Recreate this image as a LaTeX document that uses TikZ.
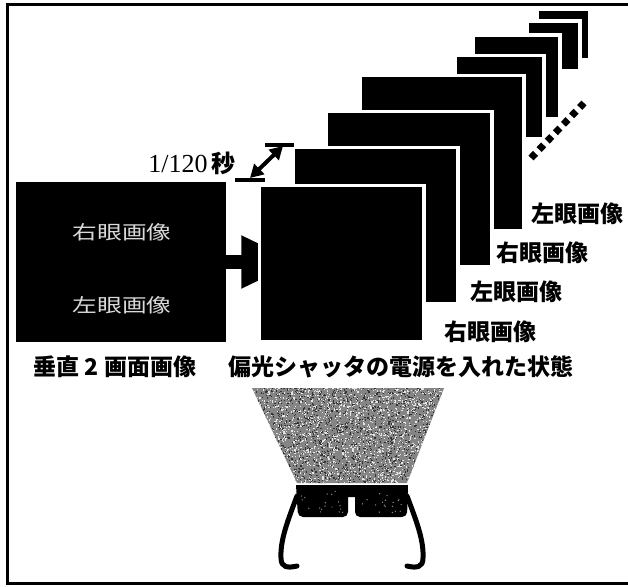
\documentclass[tikz,border=0pt]{standalone}
\usepackage{fontspec}
\usetikzlibrary{arrows.meta}
\newfontfamily\jpfont{Noto Sans CJK JP}
\newfontfamily\jpwide[FakeStretch=1.3]{Noto Sans CJK JP}
\newfontfamily\numfont{Liberation Serif}
\pgfdeclarelayer{background}
\pgfsetlayers{background,main}

\begin{document}
\begin{tikzpicture}[x=1pt,y=-1pt,
  caption/.style={font=\jpfont\bfseries\fontsize{23}{23}\selectfont, inner sep=0pt},
  eyetext/.style={font=\jpwide\fontsize{19}{19}\selectfont, text=white!85!black, inner sep=0pt},
  sheet/.style={fill=black, draw=white, line width=3.5pt, inner sep=0pt, outer sep=0pt},
  bigarrow/.style={line width=14pt, -{Triangle[length=57pt,width=49pt]}},
  dimbar/.style={line width=4pt},
  dimarrow/.style={line width=4pt, {Triangle[length=13pt,width=14pt]}-{Triangle[length=13pt,width=14pt]}},
  temple/.style={line width=5pt, line cap=round, line join=round},
  dots/.style={line width=7pt, dash pattern=on 6.5pt off 5.2pt},
]
\useasboundingbox (0,0) rectangle (628,586);

% outer frame (open on the right)
\draw[line width=3pt] (628,4.5) -- (7.5,4.5) -- (7.5,583) -- (628,583);

% side-by-side source image
\node[fill=black, inner sep=0pt, outer sep=0pt, minimum width=210pt, minimum height=160pt] (lbox) at (121,262) {};
\node[eyetext] (lt1) at (122,232) {右眼画像};
\node[eyetext] (lt2) at (122,305) {左眼画像};
\node[caption] (lcap) at (115,367) {垂直 2 画面画像};

% sequence of frames, back to front
\foreach \n/\a/\b/\c/\d in {l1/539/11/588/58, l2/529/23/578/69, l3/475/37/558/117,
    l4/457/57/542/137, f4/362/77/522/229, f3/328/113/490/265,
    f2/295/149/456/302, f1/261/187/422/340}
  \node[sheet, minimum width={\c-\a+3.5}, minimum height={\d-\b+3.5}] (\n)
    at ({(\a+\c)/2},{(\b+\d)/2}) {};

% arrow from the source image into the frame sequence
\begin{pgfonlayer}{background}
  \draw[bigarrow] (lbox.east) -- ([xshift=39pt]f1.west |- lbox.east);
\end{pgfonlayer}

% continuation dots
\coordinate (dA) at (531,158);
\coordinate (dB) at (584,103);
\draw[dots] (dA) -- (dB);

% frame labels
\node[caption] (r1) at (490,332) {右眼画像};
\node[caption] (e1) at (516,292) {左眼画像};
\node[caption] (r2) at (542,253) {右眼画像};
\node[caption] (e2) at (577,214) {左眼画像};
\node[caption] (rcap) at (401,367) {偏光シャッタの電源を入れた状態};

% frame interval
\coordinate (ta) at (265,145);
\coordinate (tb) at (294,145);
\coordinate (ba) at (235,180);
\coordinate (bb) at (265,180);
\draw[dimbar] (ta) -- (tb);
\draw[dimbar] (ba) -- (bb);
\coordinate (da) at (250,178);
\coordinate (db) at (283,146);
\draw[dimarrow] (da) -- (db);
\node[inner sep=0pt] (tlabel) at (192,163)
  {{\numfont\fontsize{26}{26}\selectfont 1/120}\hspace{4pt}{\jpfont\bfseries\fontsize{24}{24}\selectfont 秒}};

% light cone towards the glasses
\begin{scope}
  \clip (252,388) -- (444,388) -- (407,483) -- (297,483) -- cycle;
  \fill[black!48] (252,386) rectangle (444,485);
  \pgfmathsetseed{7}
  \foreach \i in {1,...,1800} {
    \pgfmathsetmacro\px{252+192*rnd}
    \pgfmathsetmacro\py{386+99*rnd}
    \fill[black!80] (\px,\py) rectangle ++(1.2,1.2);
  }
  \foreach \i in {1,...,1800} {
    \pgfmathsetmacro\px{252+192*rnd}
    \pgfmathsetmacro\py{386+99*rnd}
    \fill[white!90!black] (\px,\py) rectangle ++(1.2,1.2);
  }
\end{scope}

% shutter glasses
\fill (296,485) -- (408,485) [rounded corners=5pt] -- (407,517) -- (355,517)
  [sharp corners] -- (355,497) -- (348,497) [rounded corners=5pt] -- (348,517) -- (298,517)
  [sharp corners] -- cycle;
\pgfmathsetseed{3}
\foreach \i in {1,...,18} {
  \pgfmathsetmacro\px{301+43*rnd}
  \pgfmathsetmacro\py{490+23*rnd}
  \fill[black!45] (\px,\py) circle (0.7);
  \pgfmathsetmacro\qx{359+44*rnd}
  \pgfmathsetmacro\qy{490+23*rnd}
  \fill[black!45] (\qx,\qy) circle (0.7);
}
\draw[temple] (297,496) .. controls (288,520) and (280,540) .. (281,558)
  .. controls (281,568) and (288,568) .. (297,566);
\draw[temple] (407,496) .. controls (416,520) and (424,540) .. (423,558)
  .. controls (423,568) and (416,568) .. (407,566);
\end{tikzpicture}
\end{document}
